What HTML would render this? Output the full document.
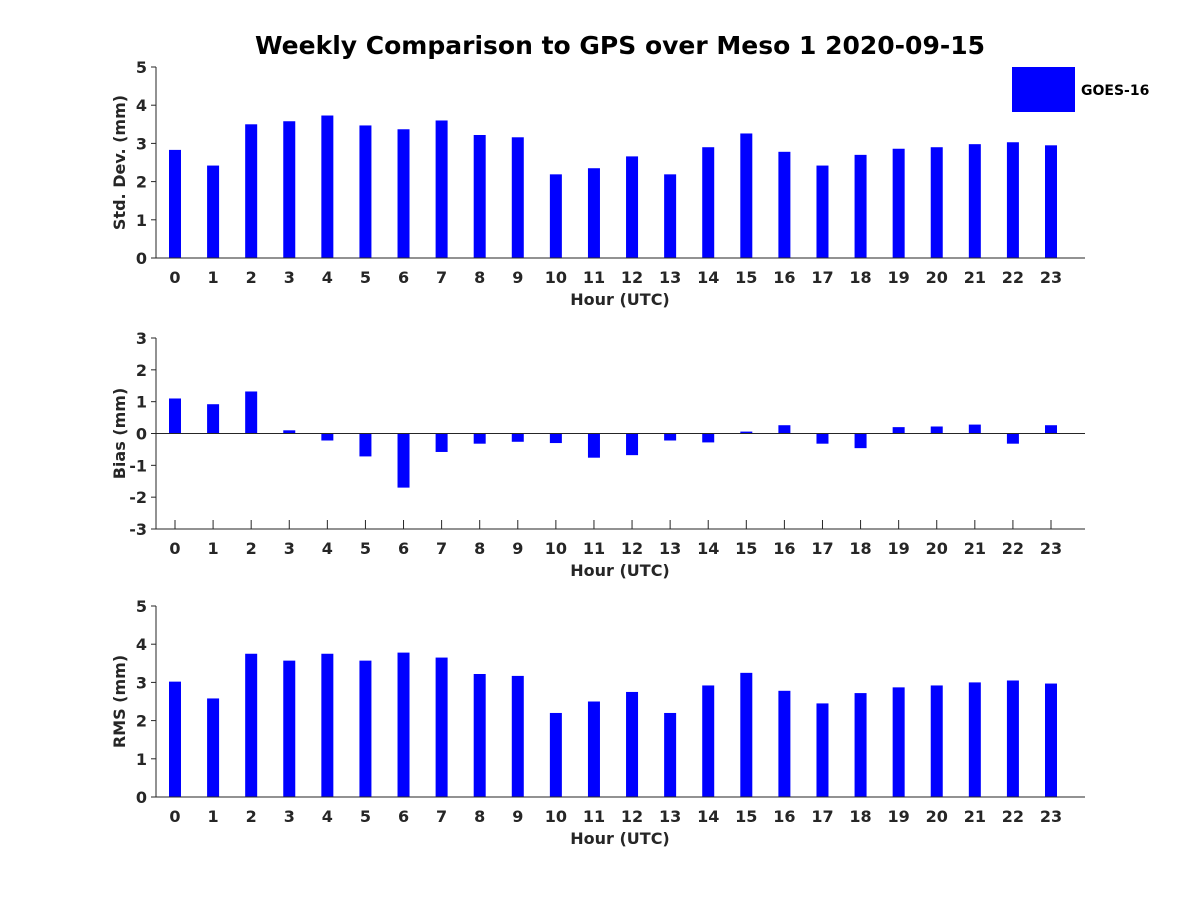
<!DOCTYPE html>
<html><head><meta charset="utf-8"><style>
body{margin:0;background:#fff}
svg text{font-family:"DejaVu Sans","Liberation Sans",sans-serif;font-weight:bold;fill:#262626}
</style></head><body>
<svg id="c" width="1200" height="900" xmlns="http://www.w3.org/2000/svg">
<text x="620" y="54" text-anchor="middle" font-size="25" style="fill:#000">Weekly Comparison to GPS over Meso 1 2020-09-15</text>
<rect x="1012" y="67" width="63" height="45" fill="#0000ff"/>
<text x="1081" y="95" font-size="14" style="fill:#000">GOES-16</text>
</svg>
<script>
const hours=[0,1,2,3,4,5,6,7,8,9,10,11,12,13,14,15,16,17,18,19,20,21,22,23];
const stdDev=[2.83,2.42,3.5,3.58,3.73,3.47,3.37,3.6,3.22,3.16,2.19,2.35,2.66,2.19,2.9,3.26,2.78,2.42,2.7,2.86,2.9,2.98,3.03,2.95];
const bias=[1.1,0.92,1.32,0.1,-0.22,-0.72,-1.7,-0.58,-0.32,-0.26,-0.3,-0.76,-0.68,-0.22,-0.28,0.06,0.26,-0.32,-0.46,0.2,0.22,0.28,-0.32,0.26];
const rms=[3.02,2.58,3.75,3.57,3.75,3.57,3.78,3.65,3.22,3.17,2.2,2.5,2.75,2.2,2.92,3.25,2.78,2.45,2.72,2.87,2.92,3.0,3.05,2.97];
const stdTicks=[0,1,2,3,4,5];
const biasTicks=[-3,-2,-1,0,1,2,3];
const rmsTicks=[0,1,2,3,4,5];
const svg=document.getElementById('c');
const NS='http://www.w3.org/2000/svg';
function mk(tag,a){const e=document.createElementNS(NS,tag);for(const k in a)e.setAttribute(k,a[k]);svg.appendChild(e);return e;}
const X0=156,X1=1085;
function xs(h){return 175+h*38.087;}
function panel(name,top,bot,ymin,ymax,vals,ticks,ylabel){
  const ys=v=>bot-(v-ymin)/(ymax-ymin)*(bot-top);
  const base=ys(Math.max(ymin,0));
  hours.forEach(h=>{
    mk('line',{x1:xs(h),y1:bot,x2:xs(h),y2:bot-9,stroke:'#262626'});
    const tx=mk('text',{x:xs(h),y:bot+25,'text-anchor':'middle','font-size':16});
    tx.textContent=h;
    
  });
  vals.forEach((v,i)=>{
    const y0=ys(v);
    const r=mk('rect',{x:xs(hours[i])-6,y:Math.min(y0,base),width:12,height:Math.abs(base-y0),fill:'#0000ff'});
    
    
  });
  let a=mk('line',{x1:X0,y1:top,x2:X0,y2:bot,stroke:'#262626','stroke-width':1});
  
  a=mk('line',{x1:X0,y1:bot,x2:X1,y2:bot,stroke:'#262626','stroke-width':1});
  
  if(ymin<0){a=mk('line',{x1:X0,y1:base,x2:X1,y2:base,stroke:'#262626','stroke-width':1});
    }
  ticks.forEach(t=>{
    const y=ys(t);
    mk('line',{x1:X0-5,y1:y,x2:X0,y2:y,stroke:'#262626'});
    const tx=mk('text',{x:X0-9,y:y+6,'text-anchor':'end','font-size':16});
    tx.textContent=t;
    
  });
  let t=mk('text',{x:620,y:bot+47,'text-anchor':'middle','font-size':16});
  t.textContent='Hour (UTC)';
  
  const cy=(top+bot)/2;
  t=mk('text',{x:125,y:cy,'text-anchor':'middle','font-size':16,transform:'rotate(-90 125 '+cy+')'});
  t.textContent=ylabel;
  
}
panel('std-dev',67,258,0,5,stdDev,stdTicks,'Std. Dev. (mm)');
panel('bias',338,529,-3,3,bias,biasTicks,'Bias (mm)');
panel('rms',606,797,0,5,rms,rmsTicks,'RMS (mm)');
</script>
</body></html>
